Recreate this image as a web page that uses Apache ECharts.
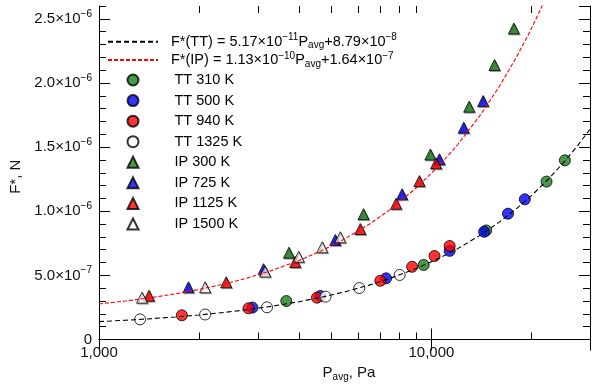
<!DOCTYPE html>
<html>
<head>
<meta charset="utf-8">
<script src="https://cdn.jsdelivr.net/npm/echarts@6/dist/echarts.min.js"></script>
<style>
  html, body { margin: 0; padding: 0; background: #fff; }
  #chart { width: 601px; height: 385px; }
</style>
</head>
<body>
<div id="chart"></div>
<script>
// measured points: P_avg in Pa, F* in N
const tt310P = [3660, 9480, 14620, 22200, 25210];
const tt310F = [3.00e-7, 5.81e-7, 8.50e-7, 1.231e-6, 1.397e-6];
const tt500P = [2895, 4630, 7305, 11350, 14410, 17000, 19100];
const tt500F = [2.49e-7, 3.39e-7, 4.77e-7, 6.91e-7, 8.40e-7, 9.81e-7, 1.093e-6];
const tt940P = [1775, 2817, 4525, 7020, 8750, 10220, 11350];
const tt940F = [1.89e-7, 2.43e-7, 3.26e-7, 4.58e-7, 5.67e-7, 6.51e-7, 7.29e-7];
const tt1325P = [1329, 2086, 3202, 4804, 6069, 8028];
const tt1325F = [1.57e-7, 1.95e-7, 2.51e-7, 3.34e-7, 4.01e-7, 5.03e-7];
const ip300P = [3728, 6248, 9930, 12990, 15480, 17700];
const ip300F = [6.77e-7, 9.77e-7, 1.442e-6, 1.815e-6, 2.140e-6, 2.424e-6];
const ip725P = [1858, 3126, 5138, 8160, 10570, 12510, 14310];
const ip725F = [4.07e-7, 5.48e-7, 7.76e-7, 1.132e-6, 1.405e-6, 1.651e-6, 1.859e-6];
const ip1125P = [1414, 2413, 3894, 6111, 7830, 9203, 10330];
const ip1125F = [3.41e-7, 4.46e-7, 6.04e-7, 8.61e-7, 1.058e-6, 1.235e-6, 1.373e-6];
const ip1500P = [1347, 2086, 3162, 3989, 4695, 5320];
const ip1500F = [3.26e-7, 4.07e-7, 5.30e-7, 6.45e-7, 7.19e-7, 7.97e-7];

// fit coefficients from the legend: F = slope * P + intercept
const fitTT = [5.17e-11, 8.79e-8];
const fitIP = [1.13e-10, 1.64e-7];
const fitP = [1000, 1200, 1400, 1700, 2000, 2400, 2800, 3300, 4000, 4700, 5500, 6500, 7500,
  9000, 10500, 12000, 14000, 16000, 18000, 20000, 22500, 25000, 27500, 30000];

// axis ticks
const xMin = 1000, xMax = 30000;
const xMinorTicks = [2000, 3000, 4000, 5000, 6000, 7000, 8000, 9000, 20000];
const yMin = 0, yMax = 2.6e-6, yMajor = 5e-7, yMinor = 1e-7;

const FONT = "'Liberation Sans', Arial, sans-serif";
const GREEN = '#1a7f1a', BLUE = '#0000ff', RED = '#ff0000', WHITE = '#ffffff';

const pairs = (xs, ys) => xs.map((x, i) => [x, ys[i]]);
const fitLine = (c) => fitP.map((p) => [p, c[0] * p + c[1]]);

const supRich = {
  sup: { fontSize: 10, lineHeight: 10, verticalAlign: 'top', fontFamily: FONT, color: '#000' },
  sub: { fontSize: 10, lineHeight: 10, verticalAlign: 'bottom', fontFamily: FONT, color: '#000' }
};

function sciLabel(v) {
  if (v === 0) return '0';
  const exp = Math.floor(Math.log10(v) + 1e-9);
  const mant = v / Math.pow(10, exp);
  return mant.toFixed(1) + '×10{sup|−' + (-exp) + '}';
}

const legendText = {
  'F*(TT)': 'F*(TT) = 5.17×10{sup|−11}P{sub|avg}+8.79×10{sup|−8}',
  'F*(IP)': 'F*(IP) = 1.13×10{sup|−10}P{sub|avg}+1.64×10{sup|−7}'
};

function scatter(name, xs, ys, symbol, color) {
  const tri = symbol === 'triangle';
  return {
    name,
    type: 'scatter',
    symbol,
    symbolSize: 11,
    data: pairs(xs, ys),
    z: 3,
    itemStyle: {
      color,
      borderColor: '#000',
      borderWidth: 1,
      shadowColor: tri ? 'rgba(0,0,0,0.35)' : 'transparent',
      shadowOffsetX: tri ? 1 : 0,
      shadowOffsetY: tri ? 1 : 0
    }
  };
}

function yAxisBox(position, interval, len, labels) {
  return {
    type: 'value',
    position,
    min: yMin,
    max: yMax,
    interval,
    axisLine: { show: len > 8, lineStyle: { color: '#000', width: 1 } },
    axisTick: { show: true, inside: true, length: len, lineStyle: { color: '#000' } },
    splitLine: { show: false },
    axisLabel: labels
      ? {
          show: true,
          margin: 7,
          showMaxLabel: false,
          color: '#111',
          fontFamily: FONT,
          fontSize: 15,
          lineHeight: 20,
          formatter: sciLabel,
          rich: supRich
        }
      : { show: false }
  };
}

const chart = echarts.init(document.getElementById('chart'), null, { renderer: 'canvas' });

chart.setOption({
  animation: false,
  backgroundColor: '#fff',
  grid: { left: 99, right: 11, top: 6, bottom: 45.5, containLabel: false, outerBoundsMode: 'none' },
  legend: [
    {
      data: ['F*(TT)', 'F*(IP)'],
      orient: 'vertical',
      left: 107,
      top: 32.7,
      padding: 0,
      itemWidth: 50,
      itemHeight: 12,
      itemGap: 0.3,
      itemStyle: { opacity: 0 },
      formatter: (name) => legendText[name],
      textStyle: { fontFamily: FONT, fontSize: 14.5, lineHeight: 18, color: '#000', padding: [0, 0, 0, 8], rich: supRich }
    },
    {
      data: ['TT 310 K', 'TT 500 K', 'TT 940 K', 'TT 1325 K', 'IP 300 K', 'IP 725 K', 'IP 1125 K', 'IP 1500 K'],
      orient: 'vertical',
      left: 126.5,
      top: 71,
      padding: 0,
      itemWidth: 11,
      itemHeight: 11,
      itemGap: 2.57,
      textStyle: { fontFamily: FONT, fontSize: 14.5, lineHeight: 18, color: '#000', padding: [0, 0, 0, 31] }
    }
  ],
  xAxis: [
    {
      type: 'log',
      logBase: 10,
      min: xMin,
      max: xMax,
      interval: 1,
      position: 'bottom',
      name: '{m|P}{sub|avg}{m|, Pa}',
      nameLocation: 'middle',
      nameGap: 24,
      nameTextStyle: {
        fontFamily: FONT,
        fontSize: 15,
        color: '#111',
        padding: [0, 0, 0, 9],
        rich: { m: { fontFamily: FONT, fontSize: 15, lineHeight: 18, color: '#111' }, sub: supRich.sub }
      },
      axisLine: { show: true, lineStyle: { color: '#000', width: 1 } },
      axisTick: { show: true, inside: true, length: 11, lineStyle: { color: '#000' } },
      minorTick: { show: false },
      splitLine: { show: false },
      axisLabel: {
        margin: 6,
        showMaxLabel: false,
        color: '#111',
        fontFamily: FONT,
        fontSize: 15,
        formatter: (v) => Math.round(v).toLocaleString('en-US')
      }
    },
    {
      type: 'log',
      logBase: 10,
      min: xMin,
      max: xMax,
      interval: 1,
      position: 'top',
      axisLine: { show: true, lineStyle: { color: '#000', width: 1 } },
      axisTick: { show: true, inside: true, length: 11, lineStyle: { color: '#000' } },
      splitLine: { show: false },
      axisLabel: { show: false }
    }
  ],
  yAxis: [
    Object.assign(yAxisBox('left', yMajor, 11, true), {
      name: 'F*, N',
      nameLocation: 'middle',
      nameGap: 54,
      nameRotate: 90,
      nameTextStyle: { fontFamily: FONT, fontSize: 15, color: '#111', padding: [0, 8, 0, 0] }
    }),
    yAxisBox('left', yMinor, 7, false),
    yAxisBox('right', yMajor, 11, false),
    yAxisBox('right', yMinor, 7, false)
  ],
  series: [
    scatter('TT 310 K', tt310P, tt310F, 'circle', GREEN),
    scatter('TT 500 K', tt500P, tt500F, 'circle', BLUE),
    scatter('TT 940 K', tt940P, tt940F, 'circle', RED),
    scatter('TT 1325 K', tt1325P, tt1325F, 'circle', WHITE),
    scatter('IP 300 K', ip300P, ip300F, 'triangle', GREEN),
    scatter('IP 725 K', ip725P, ip725F, 'triangle', BLUE),
    scatter('IP 1125 K', ip1125P, ip1125F, 'triangle', RED),
    scatter('IP 1500 K', ip1500P, ip1500F, 'triangle', WHITE),
    {
      name: 'F*(TT)',
      type: 'line',
      symbol: 'none',
      z: 4,
      clip: true,
      data: fitLine(fitTT),
      lineStyle: { color: '#000', width: 1.1, type: [5, 3] },
      itemStyle: { color: '#000' }
    },
    {
      name: 'F*(IP)',
      type: 'line',
      symbol: 'none',
      z: 4,
      clip: true,
      data: fitLine(fitIP),
      lineStyle: { color: RED, width: 1.1, type: [4, 2] },
      itemStyle: { color: RED }
    },
    {
      // minor ticks of the log axis, top and bottom
      type: 'custom',
      silent: true,
      z: 5,
      data: xMinorTicks.map((v) => [v]),
      encode: { x: 0 },
      renderItem: (params, api) => {
        const v = api.value(0);
        const b = api.coord([v, yMin]);
        const t = api.coord([v, yMax]);
        const x = Math.round(b[0]) + 0.5;
        const st = { stroke: '#000', lineWidth: 1 };
        return {
          type: 'group',
          children: [
            { type: 'line', shape: { x1: x, y1: b[1], x2: x, y2: b[1] - 7 }, style: st },
            { type: 'line', shape: { x1: x, y1: t[1], x2: x, y2: t[1] + 7 }, style: st }
          ]
        };
      }
    }
  ]
});
</script>
</body>
</html>
